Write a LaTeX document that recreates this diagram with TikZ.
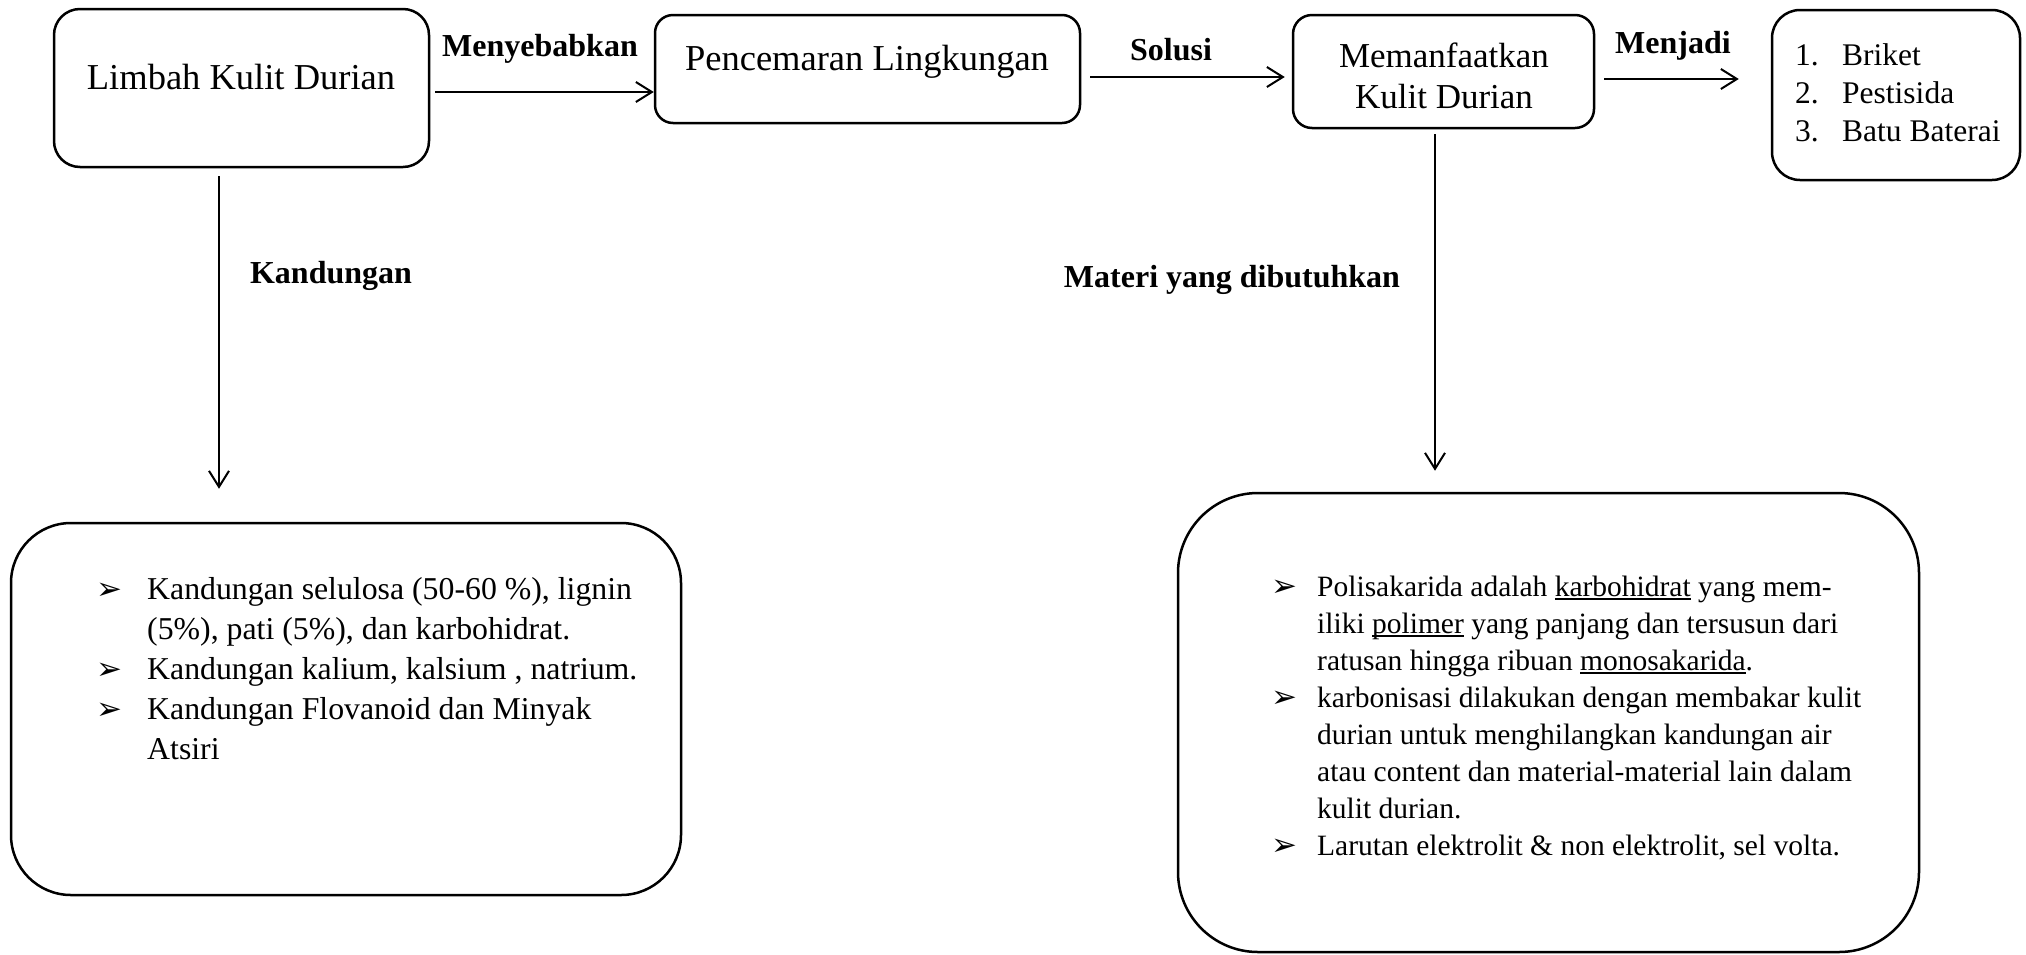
\documentclass[tikz,border=0pt]{standalone}
\usepackage{fontspec}
\setmainfont{Liberation Serif}
\newfontfamily\dejavu{DejaVu Sans}
\usetikzlibrary{arrows.meta,calc}
\newcommand\myul[1]{\setbox0\hbox{#1}\rlap{\rule[-4pt]{\wd0}{1.6pt}}\box0\relax}
\newcommand\fs[2]{\fontsize{#1}{#2}\selectfont}
\begin{document}
\begin{tikzpicture}[x=1pt,y=-1pt,
  box/.style={draw, line width=2.5pt, inner sep=0pt},
  arr/.style={line width=2pt, -{Straight Barb[length=16pt,width=20pt,line width=2pt]}},
  big/.style={font=\fs{36.5}{42}, anchor=base, inner sep=0pt},
  mid/.style={font=\fs{35}{40}, anchor=base, inner sep=0pt},
  lst/.style={font=\fs{31.5}{36}, anchor=base west, inner sep=0pt},
  lbl/.style={font=\fs{32}{36}\bfseries, anchor=base, inner sep=0pt},
  ltxt/.style={font=\fs{31.8}{36}, anchor=base west, inner sep=0pt},
  rtxt/.style={font=\fs{29.5}{34}, anchor=base west, inner sep=0pt},
  bul/.style={font=\dejavu\fs{31}{31}, anchor=base west, inner sep=0pt}]
\useasboundingbox (0,0) rectangle (2026,954);

% boxes
\node[box, rounded corners=26pt, minimum width=375pt, minimum height=158pt] (limbah) at (241.5,88) {};
\node[box, rounded corners=18pt, minimum width=425pt, minimum height=108pt] (pencemaran) at (867.5,69) {};
\node[box, rounded corners=19pt, minimum width=301pt, minimum height=113pt] (memanf) at (1443.5,71.5) {};
\node[box, rounded corners=28pt, minimum width=248pt, minimum height=170pt] (daftar) at (1896,95) {};
\node[box, rounded corners=60pt, minimum width=670pt, minimum height=372pt] (kiri) at (346,709) {};
\node[box, rounded corners=80pt, minimum width=741pt, minimum height=459pt] (kanan) at (1548.5,722.5) {};

% box texts
\node[big] (tlimbah) at (241,89) {Limbah Kulit Durian};
\node[big] (tpenc) at (867,70) {Pencemaran Lingkungan};
\node[mid] (tman1) at (1444,67) {Memanfaatkan};
\node[mid] (tman2) at (1444,108) {Kulit Durian};
\node[lst] (n1) at (1795,65) {1.};
\node[lst] (n2) at (1795,103) {2.};
\node[lst] (n3) at (1795,141) {3.};
\node[lst] (d1) at (1842,65) {Briket};
\node[lst] (d2) at (1842,103) {Pestisida};
\node[lst] (d3) at (1842,141) {Batu Baterai};

% labels
\node[lbl] (lmeny) at (540,56) {Menyebabkan};
\node[lbl] (lsol) at (1171,60) {Solusi};
\node[lbl] (lmenj) at (1673,53) {Menjadi};
\node[lbl] (lkand) at (331,283) {Kandungan};
\node[lbl] (lmat) at (1232,287) {Materi yang dibutuhkan};

% connectors
\coordinate (r1) at (0,92);
\coordinate (r2) at (0,77);
\coordinate (r3) at (0,79);
\coordinate (c1) at (219,0);
\coordinate (c2) at (1435,0);
\draw[arr, shorten <=5pt] (limbah.east |- r1) -- (pencemaran.west |- r1);
\draw[arr, shorten <=9pt, shorten >=7pt] (pencemaran.east |- r2) -- (memanf.west |- r2);
\draw[arr, shorten <=9pt, shorten >=32pt] (memanf.east |- r3) -- (daftar.west |- r3);
\draw[arr, shorten <=8pt, shorten >=33pt] (limbah.south -| c1) -- (kiri.north -| c1);
\draw[arr, shorten <=5pt, shorten >=21pt] (memanf.south -| c2) -- (kanan.north -| c2);

% left box content
\node[bul] (lb1) at (96,599) {➢};
\node[bul] (lb2) at (96,679) {➢};
\node[bul] (lb3) at (96,719) {➢};
\node[ltxt] (l1) at (147,599) {Kandungan selulosa (50-60 \%), lignin};
\node[ltxt] (l2) at (147,639) {(5\%), pati (5\%), dan karbohidrat.};
\node[ltxt] (l3) at (147,679) {Kandungan kalium, kalsium , natrium.};
\node[ltxt] (l4) at (147,719) {Kandungan Flovanoid dan Minyak};
\node[ltxt] (l5) at (147,759) {Atsiri};

% right box content
\node[bul] (rb1) at (1271,596) {➢};
\node[bul] (rb2) at (1271,707) {➢};
\node[bul] (rb3) at (1271,855) {➢};
\node[rtxt] (k1) at (1317,596) {Polisakarida adalah \myul{karbohidrat} yang mem-};
\node[rtxt] (k2) at (1317,633) {iliki \myul{polimer} yang panjang dan tersusun dari};
\node[rtxt] (k3) at (1317,670) {ratusan hingga ribuan \myul{monosakarida}.};
\node[rtxt] (k4) at (1317,707) {karbonisasi dilakukan dengan membakar kulit};
\node[rtxt] (k5) at (1317,744) {durian untuk menghilangkan kandungan air};
\node[rtxt] (k6) at (1317,781) {atau content dan material-material lain dalam};
\node[rtxt] (k7) at (1317,818) {kulit durian.};
\node[rtxt] (k8) at (1317,855) {Larutan elektrolit \& non elektrolit, sel volta.};
\end{tikzpicture}
\end{document}
